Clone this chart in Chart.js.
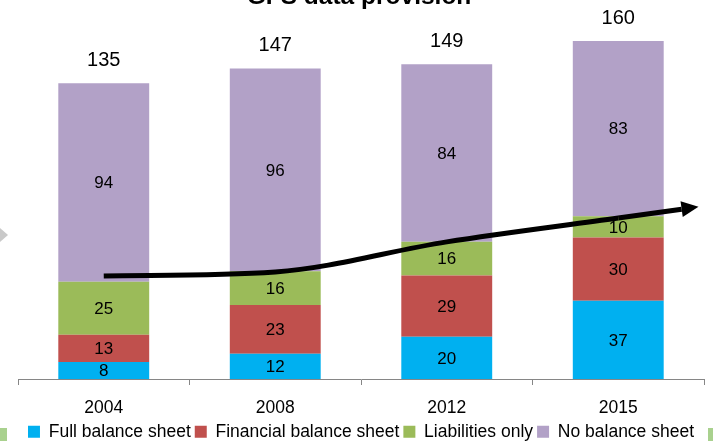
<!DOCTYPE html>
<html>
<head>
<meta charset="utf-8">
<title>GFS data provision</title>
<script src="https://cdn.jsdelivr.net/npm/chart.js@4.4.1/dist/chart.umd.min.js"></script>
<style>
  html, body { margin: 0; padding: 0; background: #fff; }
  #wrap { width: 713px; height: 441px; position: relative; }
</style>
</head>
<body>
<div id="wrap"><canvas id="gfsChart" width="713" height="441"></canvas></div>
<script>
// values
const years = ["2004", "2008", "2012", "2015"];
const fullBS = [8, 12, 20, 37];
const finBS = [13, 23, 29, 30];
const liabOnly = [25, 16, 16, 10];
const noBS = [94, 96, 84, 83];
const totals = [135, 147, 149, 160];
// hand-drawn trend arrow, in value units
const trend = [48.8, 50.7, 64.9, 76.2];

const FONT = "'Liberation Sans', Arial, sans-serif";

// labels inside segments, totals on top, title, arrow head
const overlayPlugin = {
  id: "overlay",
  afterDatasetsDraw(chart) {
    const ctx = chart.ctx;
    ctx.save();
    ctx.fillStyle = "#000";
    ctx.font = "17px " + FONT;
    ctx.textAlign = "center";
    ctx.textBaseline = "middle";

    chart.data.datasets.forEach((ds, i) => {
      if (ds.type === "line") return;
      const meta = chart.getDatasetMeta(i);
      meta.data.forEach((bar, j) => {
        ctx.fillText(ds.data[j], bar.x, (bar.y + bar.base) / 2 + 1);
      });
    });

    // totals above the stack
    ctx.font = "20px " + FONT;
    chart.getDatasetMeta(3).data.forEach((bar, j) => {
      ctx.fillText(totals[j], bar.x, bar.y - 23);
    });

    // arrow extension past last point
    const pts = chart.getDatasetMeta(4).data;
    const a = pts[pts.length - 2], b = pts[pts.length - 1];
    const dx = b.x - a.x, dy = b.y - a.y;
    const len = Math.sqrt(dx * dx + dy * dy);
    const ux = dx / len, uy = dy / len;
    const shaft = 64, head = 17, half = 8;
    const sx = b.x + ux * shaft, sy = b.y + uy * shaft;
    ctx.strokeStyle = "#000";
    ctx.lineWidth = 5;
    ctx.beginPath();
    ctx.moveTo(b.x, b.y);
    ctx.lineTo(sx, sy);
    ctx.stroke();
    ctx.beginPath();
    ctx.moveTo(sx + ux * head, sy + uy * head);
    ctx.lineTo(sx - uy * half, sy + ux * half);
    ctx.lineTo(sx + uy * half, sy - ux * half);
    ctx.closePath();
    ctx.fill();

    // title, cut off at the top of the slide
    ctx.font = "bold 24.5px " + FONT;
    ctx.textBaseline = "alphabetic";
    ctx.fillText("GFS data provision", 359, 4);

    // slide leftovers at the edges
    ctx.fillStyle = "#c9c9c9";
    ctx.beginPath();
    ctx.moveTo(0, 228);
    ctx.lineTo(8, 235);
    ctx.lineTo(0, 242);
    ctx.closePath();
    ctx.fill();
    ctx.fillStyle = "#a9d18e";
    ctx.fillRect(0, 428, 7, 13);
    ctx.fillRect(708, 428, 5, 13);
    ctx.restore();
  }
};

new Chart(document.getElementById("gfsChart"), {
  type: "bar",
  data: {
    labels: years,
    datasets: [
      { label: "Full balance sheet", data: fullBS, backgroundColor: "#00B0F0", stack: "s", order: 1 },
      { label: "Financial balance sheet", data: finBS, backgroundColor: "#C0504D", stack: "s", order: 1 },
      { label: "Liabilities only", data: liabOnly, backgroundColor: "#9BBB59", stack: "s", order: 1 },
      { label: "No balance sheet", data: noBS, backgroundColor: "#B2A1C7", stack: "s", order: 1 },
      {
        type: "line",
        label: "trend",
        data: trend,
        stack: "trend",
        borderColor: "#000",
        borderWidth: 5,
        pointRadius: 0,
        cubicInterpolationMode: "monotone",
        order: 0
      }
    ]
  },
  options: {
    responsive: false,
    animation: false,
    layout: { padding: { left: 18, right: 9, top: 0, bottom: 0 } },
    datasets: {
      bar: { categoryPercentage: 1, barPercentage: 0.53 }
    },
    scales: {
      x: {
        stacked: true,
        afterFit: s => { s.height = 40; },
        grid: { drawOnChartArea: false, drawTicks: true, tickLength: 6, color: "#868686" },
        border: { display: true, color: "#868686", width: 1 },
        ticks: { color: "#000", font: { size: 17.5, family: FONT }, padding: 13 }
      },
      y: {
        stacked: true,
        display: false,
        min: 0,
        max: 179.4
      }
    },
    plugins: {
      legend: {
        position: "bottom",
        maxHeight: 22,
        labels: {
          color: "#000",
          font: { size: 17.5, family: FONT },
          boxWidth: 12,
          boxHeight: 12,
          padding: 4,
          filter: item => item.text !== "trend"
        }
      },
      tooltip: { enabled: false },
      title: { display: false }
    }
  },
  plugins: [overlayPlugin]
});
</script>
</body>
</html>
